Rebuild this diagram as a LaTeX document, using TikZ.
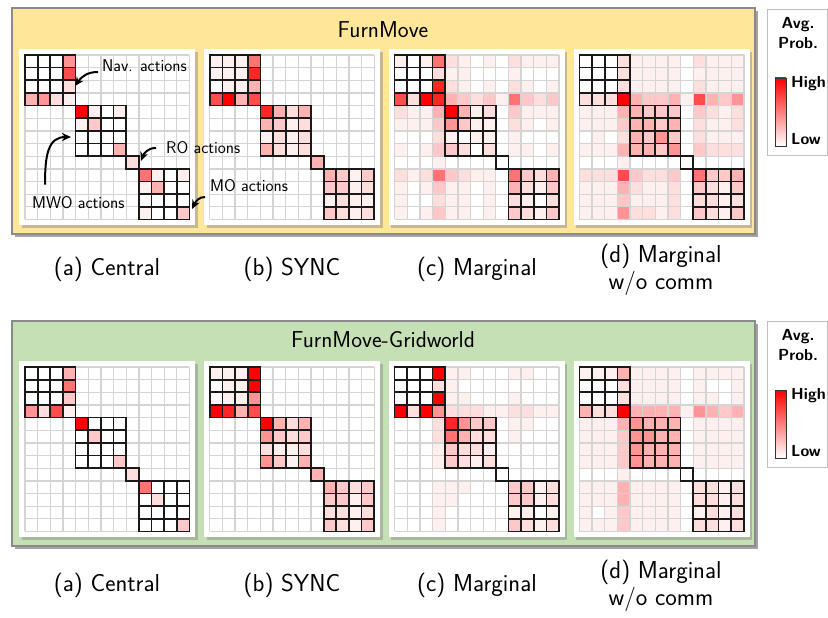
\documentclass[tikz,border=0pt]{standalone}
\usetikzlibrary{arrows.meta,shadows}
\renewcommand{\familydefault}{\sfdefault}

\definecolor{furnyellow}{HTML}{FFE699}
\definecolor{gridgreen}{HTML}{C5E0B4}
\definecolor{framegray}{HTML}{8A8A8A}

% one 13x13 action-probability map, top left corner at (#1,#2)
\newcommand{\cellw}{12.65}
\newcommand{\probmap}[3]{%
  \foreach \cells [count=\row from 0] in {#3} {
    \foreach \v [count=\col from 0] in \cells {
      \pgfmathtruncatemacro\tone{{0,6,13,21,30,42,55,70,85,100}[\v]}
      \fill[red!\tone!white] ({#1+\col*\cellw},{#2+\row*\cellw}) rectangle ++(\cellw,\cellw);
    }
  }
  \foreach \k in {0,...,13} {
    \draw[gridline] ({#1+\k*\cellw},#2) -- ++(0,13*\cellw);
    \draw[gridline] (#1,{#2+\k*\cellw}) -- ++(13*\cellw,0);
  }
  % Nav / MWO / RO / MO blocks
  \foreach \s/\n in {0/4,4/4,8/1,9/4} {
    \foreach \k in {0,...,\n} {
      \draw[blockline] ({#1+(\s+\k)*\cellw},{#2+\s*\cellw}) -- ++(0,\n*\cellw);
      \draw[blockline] ({#1+\s*\cellw},{#2+(\s+\k)*\cellw}) -- ++(\n*\cellw,0);
    }
  }
}

\begin{document}
\begin{tikzpicture}[x=1pt,y=-1pt,
  framebox/.style={draw=framegray,line width=2pt,inner sep=0pt,
    minimum width=743pt,minimum height=225pt,
    drop shadow={shadow xshift=3pt,shadow yshift=-3pt,fill=black!60,opacity=.6}},
  panel/.style={fill=white,inner sep=0pt,minimum size=176pt,
    drop shadow={shadow xshift=2.5pt,shadow yshift=-2.5pt,fill=black!45,opacity=.5}},
  keybox/.style={draw=black!25,fill=white,line width=.8pt,inner sep=0pt,
    minimum width=60pt,minimum height=146pt},
  gridline/.style={draw=black!17,line width=1.3pt},
  blockline/.style={draw=black!90,line width=1.7pt,line cap=rect},
  title/.style={font=\fontsize{23}{27}\selectfont},
  caption/.style={font=\fontsize{24.5}{27}\selectfont,align=center},
  keytext/.style={font=\fontsize{16}{20}\selectfont\bfseries,align=center},
  note/.style={font=\fontsize{17}{19}\selectfont,inner sep=0pt,anchor=west},
  callout/.style={line width=2pt,-{Stealth[length=9pt,width=8pt]}}]
\useasboundingbox (0,0) rectangle (828,618);

% ---------------- FurnMove ----------------
\node[framebox,fill=furnyellow] (furn) at (383.5,121) {};
\node[title] (furntitle) at (383,30) {FurnMove};
\foreach \mx [count=\i] in {25,209.8,394.6,579.4}
  \node[panel] (top\i) at (\mx+82.2,137.2) {};

\probmap{25}{55}{
{0,0,0,5,0,0,0,0,0,0,0,0,0},
{0,0,0,7,0,0,0,0,0,0,0,0,0},
{0,0,0,2,0,0,0,0,0,0,0,0,0},
{4,5,2,1,0,0,0,0,0,0,0,0,0},
{0,0,0,0,9,1,0,1,0,0,0,0,0},
{0,0,0,0,1,3,0,0,0,0,0,0,0},
{0,0,0,0,0,0,0,0,0,0,0,0,0},
{0,0,0,0,0,0,0,4,0,0,0,0,0},
{0,0,0,0,0,0,0,0,2,0,0,0,0},
{0,0,0,0,0,0,0,0,0,6,1,0,1},
{0,0,0,0,0,0,0,0,0,1,4,0,0},
{0,0,0,0,0,0,0,0,0,0,0,0,0},
{0,0,0,0,0,0,0,0,0,1,0,0,3}}
\probmap{209.8}{55}{
{1,1,1,6,0,0,0,0,0,0,0,0,0},
{1,1,1,8,0,0,0,0,0,0,0,0,0},
{0,1,1,4,0,0,0,0,0,0,0,0,0},
{7,9,4,7,0,0,0,0,0,0,0,0,0},
{0,0,0,0,8,4,2,4,0,0,0,0,0},
{0,0,0,0,4,3,1,2,0,0,0,0,0},
{0,0,0,0,1,2,1,2,0,0,0,0,0},
{0,0,0,0,4,2,1,2,0,0,0,0,0},
{0,0,0,0,0,0,0,0,4,0,0,0,0},
{0,0,0,0,0,0,0,0,0,4,3,1,3},
{0,0,0,0,0,0,0,0,0,3,3,1,2},
{0,0,0,0,0,0,0,0,0,1,2,1,1},
{0,0,0,0,0,0,0,0,0,3,2,1,2}}
\probmap{394.6}{55}{
{1,0,1,6,2,1,0,1,0,2,1,1,1},
{0,0,0,2,1,1,0,0,0,1,0,0,0},
{0,0,0,8,2,1,0,1,0,2,1,0,1},
{7,2,9,8,4,3,2,3,1,6,3,2,3},
{2,1,1,4,9,4,1,2,0,3,1,1,1},
{1,1,1,3,5,3,1,1,0,2,1,0,1},
{0,0,0,2,1,0,1,1,0,1,0,0,0},
{1,0,1,3,3,2,0,2,0,1,1,0,1},
{0,0,0,1,0,0,0,0,0,0,0,0,0},
{2,1,2,6,3,2,1,1,0,6,3,2,4},
{1,0,1,3,1,1,0,1,0,4,2,1,3},
{1,0,0,2,1,1,0,1,0,2,1,0,2},
{1,0,1,3,1,1,0,1,0,3,2,1,3}}
\probmap{579.4}{55}{
{0,0,0,2,1,1,1,1,0,2,1,1,1},
{0,0,0,2,1,1,1,1,0,1,1,1,1},
{0,0,0,2,1,1,1,1,0,2,1,1,1},
{2,2,2,9,4,3,3,4,1,7,4,3,5},
{1,1,1,4,4,3,3,3,0,3,2,1,2},
{1,1,1,3,4,4,3,4,0,2,1,1,2},
{0,1,0,2,4,3,5,3,0,2,1,1,1},
{1,1,1,4,4,4,3,5,0,3,2,2,2},
{0,0,0,1,0,0,0,0,0,0,0,0,0},
{2,2,2,7,3,2,2,3,0,6,3,3,4},
{1,1,1,4,2,1,1,2,0,3,2,1,3},
{1,1,1,3,1,1,1,2,0,2,2,1,2},
{1,1,1,5,2,2,1,2,0,3,2,1,3}}

% action group call-outs
\node[note] (navnote) at (102,66) {Nav. actions};
\node[note] (mwonote) at (32,203) {MWO actions};
\node[note] (ronote) at (166,148) {RO actions};
\node[note] (monote) at (210,186) {MO actions};
\coordinate (navtip) at (75,86);
\coordinate (mwotip) at (71,137);
\coordinate (rotip) at (141,161);
\coordinate (motip) at (192,209);
\draw[callout] ([xshift=-4pt,yshift=-6pt]navnote.west) .. controls (88,72) and (82,76) .. (navtip);
\draw[callout] ([xshift=13pt,yshift=12pt]mwonote.north west) .. controls (45,155) and (48,137) .. (mwotip);
\draw[callout] ([xshift=-10pt]ronote.west) .. controls (148,148) and (144,153) .. (rotip);
\draw[callout] ([xshift=-5pt,yshift=-11pt]monote.west) .. controls (199,197) and (196,201) .. (motip);

\node[caption] (capa) at (107,269) {(a) Central};
\node[caption] (capb) at (292,269) {(b) SYNC};
\node[caption] (capc) at (477,269) {(c) Marginal};
\node[caption] (capd) at (661,270) {(d) Marginal\\w/o comm};

\node[keybox] (keytop) at (797,82) {};
\node[keytext] (keytoplabel) at (798,33) {Avg.\\Prob.};
\shade[top color=red,bottom color=white,draw=black!80,line width=.8pt] (775,78) rectangle (786,146);
\node[keytext,anchor=west,inner sep=0pt] (hightop) at (791,84) {High};
\node[keytext,anchor=west,inner sep=0pt] (lowtop) at (791,139) {Low};

% ---------------- FurnMove-Gridworld ----------------
\node[framebox,fill=gridgreen] (grid) at (383.5,433) {};
\node[title] (gridtitle) at (383,340) {FurnMove-Gridworld};
\foreach \mx [count=\i] in {25,209.8,394.6,579.4}
  \node[panel] (bot\i) at (\mx+82.2,449.2) {};

\probmap{25}{367}{
{0,0,0,4,0,0,0,0,0,0,0,0,0},
{0,0,0,6,0,0,0,0,0,0,0,0,0},
{0,0,0,3,0,0,0,0,0,0,0,0,0},
{5,2,7,1,0,0,0,0,0,0,0,0,0},
{0,0,0,0,9,0,0,0,0,0,0,0,0},
{0,0,0,0,0,3,0,0,0,0,0,0,0},
{0,0,0,0,0,0,0,0,0,0,0,0,0},
{0,0,0,0,0,0,0,3,0,0,0,0,0},
{0,0,0,0,0,0,0,0,2,0,0,0,0},
{0,0,0,0,0,0,0,0,0,6,0,0,0},
{0,0,0,0,0,0,0,0,0,0,2,0,0},
{0,0,0,0,0,0,0,0,0,0,0,0,0},
{0,0,0,0,0,0,0,0,0,0,0,0,3}}
\probmap{209.8}{367}{
{1,1,1,9,0,0,0,0,0,0,0,0,0},
{0,1,1,9,0,0,0,0,0,0,0,0,0},
{0,1,1,5,0,0,0,0,0,0,0,0,0},
{9,8,4,7,0,0,0,0,0,0,0,0,0},
{0,0,0,0,9,4,2,4,0,0,0,0,0},
{0,0,0,0,5,3,2,3,0,0,0,0,0},
{0,0,0,0,2,1,1,2,0,0,0,0,0},
{0,0,0,0,5,3,1,4,0,0,0,0,0},
{0,0,0,0,0,0,0,0,4,0,0,0,0},
{0,0,0,0,0,0,0,0,0,4,3,2,3},
{0,0,0,0,0,0,0,0,0,3,3,1,3},
{0,0,0,0,0,0,0,0,0,2,2,1,2},
{0,0,0,0,0,0,0,0,0,3,2,1,3}}
\probmap{394.6}{367}{
{0,0,0,9,1,1,0,0,0,1,1,0,0},
{0,0,0,2,1,0,0,0,0,0,0,0,0},
{0,0,0,9,1,1,0,0,0,1,0,0,0},
{9,2,9,5,2,2,2,1,1,2,2,1,1},
{0,0,0,2,8,5,3,3,0,1,1,0,0},
{0,0,0,2,6,4,2,2,0,1,0,0,0},
{0,0,0,1,3,2,2,1,0,0,0,0,0},
{0,0,0,1,3,2,1,2,0,0,0,0,0},
{0,0,0,0,0,0,0,0,0,0,0,0,0},
{0,0,0,1,1,1,0,0,0,3,3,1,2},
{0,0,0,1,1,0,0,0,0,3,3,1,2},
{0,0,0,1,0,0,0,0,0,1,1,0,1},
{0,0,0,1,0,0,0,0,0,3,2,1,2}}
\probmap{579.4}{367}{
{1,1,1,4,1,1,1,1,0,1,1,1,1},
{0,0,0,2,1,1,1,1,0,1,0,0,1},
{0,0,0,2,1,1,1,1,0,1,1,0,1},
{4,2,2,9,4,4,4,4,1,5,4,3,4},
{1,1,1,4,5,4,4,4,0,1,1,1,1},
{1,1,1,3,5,5,4,4,0,1,1,1,1},
{1,1,1,3,5,4,4,4,0,1,1,1,1},
{1,1,1,3,5,4,4,4,0,1,1,1,1},
{0,0,0,1,0,0,0,0,0,0,0,0,0},
{1,1,1,4,1,1,1,1,0,2,2,1,2},
{1,1,1,4,1,1,1,1,0,2,2,1,2},
{1,0,1,3,1,1,1,1,0,1,2,1,2},
{1,1,1,3,1,1,1,1,0,2,2,1,2}}

\node[caption] (capga) at (107,585) {(a) Central};
\node[caption] (capgb) at (292,585) {(b) SYNC};
\node[caption] (capgc) at (477,585) {(c) Marginal};
\node[caption] (capgd) at (661,586) {(d) Marginal\\w/o comm};

\node[keybox] (keybot) at (797,394) {};
\node[keytext] (keybotlabel) at (798,345) {Avg.\\Prob.};
\shade[top color=red,bottom color=white,draw=black!80,line width=.8pt] (775,390) rectangle (786,458);
\node[keytext,anchor=west,inner sep=0pt] (highbot) at (791,396) {High};
\node[keytext,anchor=west,inner sep=0pt] (lowbot) at (791,451) {Low};
\end{tikzpicture}
\end{document}
